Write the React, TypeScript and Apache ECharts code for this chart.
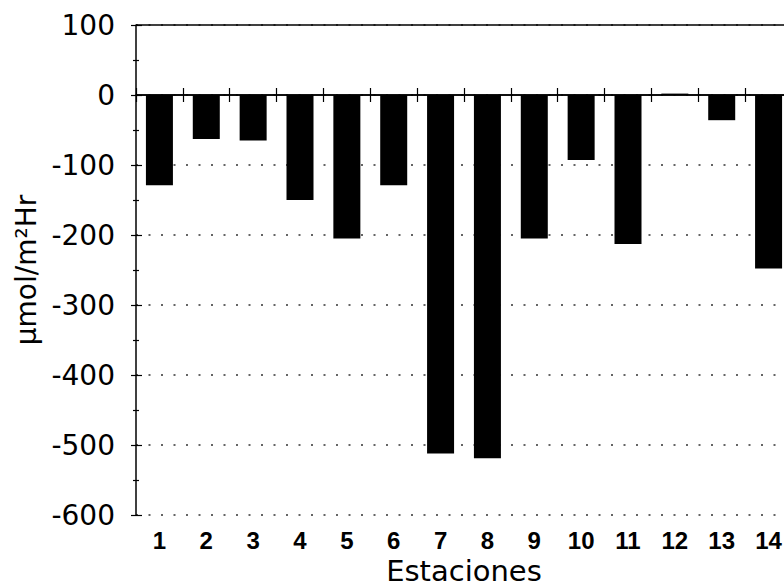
import React, { useEffect, useRef } from "react";
import * as echarts from "echarts";

const categories = ["1", "2", "3", "4", "5", "6", "7", "8", "9", "10", "11", "12", "13", "14"];
const values = [-129, -63, -65, -150, -205, -129, -512, -519, -205, -93, -213, 2, -36, -248];
const yMin = -600;
const yMax = 100;
const yInterval = 100;

export default function App() {
  const ref = useRef<HTMLDivElement>(null);
  useEffect(() => {
    if (!ref.current) return;
    const chart = echarts.init(ref.current, null, { renderer: "svg" });
    const yBase = {
      type: "value" as const,
      min: yMin,
      max: yMax,
      interval: yInterval,
      position: "left" as const,
    };
    chart.setOption({
      animation: false,
      backgroundColor: "#ffffff",
      grid: {
        left: 136,
        top: 25,
        bottom: 72,
        right: -8,
        containLabel: false,
        outerBoundsMode: "none",
      },
      xAxis: [
        {
          type: "category",
          data: categories,
          position: "bottom",
          axisLine: { show: true, lineStyle: { color: "#000", width: 1.5 } },
          axisTick: { show: true, length: 7, inside: false, lineStyle: { color: "#000", width: 1.2 } },
          axisLabel: {
            color: "#000",
            fontFamily: "Liberation Sans",
            fontWeight: "bold",
            fontSize: 24,
            margin: 13,
          },
          name: "Estaciones",
          nameLocation: "middle",
          nameGap: 40,
          nameTextStyle: { color: "#000", fontFamily: "DejaVu Sans", fontSize: 29 },
        },
        {
          type: "category",
          data: categories,
          position: "bottom",
          axisLine: { show: false },
          axisTick: { show: true, length: 7, inside: true, lineStyle: { color: "#000", width: 1.2 } },
          axisLabel: { show: false },
          splitLine: { show: false },
        },
      ],
      yAxis: [
        {
          ...yBase,
          axisLine: { show: true, lineStyle: { color: "#000", width: 1.5 } },
          axisTick: { show: true, length: 5, inside: false, lineStyle: { color: "#000", width: 1.2 } },
          minorTick: { show: true, splitNumber: 2, length: 3, lineStyle: { color: "#000", width: 1.2 } },
          axisLabel: {
            color: "#000",
            fontFamily: "DejaVu Sans",
            fontSize: 28,
            margin: 21,
          },
          splitLine: {
            show: true,
            lineStyle: { color: "#333", width: 1.5, type: [2, 10.5] },
          },
          name: "µmol/m²Hr",
          nameLocation: "middle",
          nameGap: 92,
          nameTextStyle: { color: "#000", fontFamily: "DejaVu Sans", fontSize: 28 },
        },
        {
          ...yBase,
          axisLine: { show: false },
          axisTick: { show: true, length: 6, inside: true, lineStyle: { color: "#000", width: 1.2 } },
          minorTick: { show: true, splitNumber: 2, length: 3, lineStyle: { color: "#000", width: 1.2 } },
          axisLabel: { show: false },
          splitLine: { show: false },
        },
      ],
      series: [
        {
          type: "bar",
          data: values,
          xAxisIndex: 0,
          yAxisIndex: 0,
          barWidth: 27,
          itemStyle: { color: "#000" },
          markLine: {
            silent: true,
            symbol: "none",
            label: { show: false },
            lineStyle: { color: "#000", width: 1.5, type: "solid" },
            data: [{ yAxis: 0 }, { yAxis: 100 }],
          },
        },
      ],
    });
    return () => chart.dispose();
  }, []);
  return (
    <div
      ref={ref}
      style={{ position: "fixed", left: 0, top: 0, width: 784, height: 587, background: "#fff" }}
    />
  );
}
